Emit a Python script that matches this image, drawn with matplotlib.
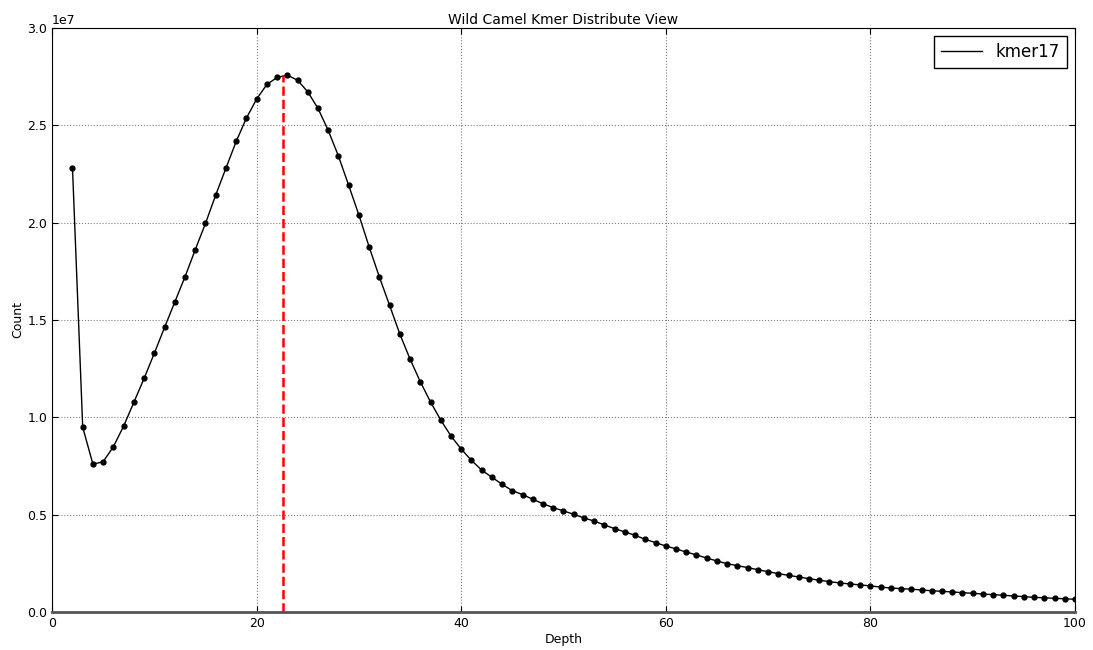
import numpy as np
import matplotlib
matplotlib.use("Agg")
import matplotlib.pyplot as plt

# kmer depth histogram, counts (units of 1e7)
depth = list(range(2, 101))
count = [2.282, 0.949, 0.759, 0.772, 0.849, 0.955, 1.077, 1.200, 1.329, 1.462,
         1.592, 1.722, 1.861, 1.996, 2.142, 2.280, 2.417, 2.537, 2.635, 2.710,
         2.746, 2.758, 2.732, 2.672, 2.587, 2.474, 2.342, 2.192, 2.039, 1.876,
         1.721, 1.575, 1.428, 1.299, 1.183, 1.079, 0.986, 0.904, 0.837, 0.779,
         0.729, 0.692, 0.656, 0.623, 0.603, 0.579, 0.556, 0.536, 0.519, 0.502,
         0.483, 0.467, 0.447, 0.428, 0.411, 0.394, 0.373, 0.356, 0.339, 0.324,
         0.308, 0.293, 0.277, 0.262, 0.248, 0.238, 0.228, 0.217, 0.207, 0.197,
         0.188, 0.180, 0.171, 0.163, 0.156, 0.149, 0.144, 0.139, 0.134, 0.128,
         0.123, 0.120, 0.117, 0.113, 0.109, 0.106, 0.103, 0.099, 0.096, 0.092,
         0.089, 0.086, 0.082, 0.079, 0.075, 0.073, 0.070, 0.068, 0.065]
count = np.array(count) * 1e7
peak_depth = 22.6
peak_count = 2.758e7

fig = plt.figure(figsize=(10.93, 6.5), dpi=100)
ax = fig.add_axes([0.0476, 0.0585, 0.9359, 0.8984])

ax.plot(depth, count, color="black", lw=1, label="kmer17")
ax.plot(depth, count, "o", color="black", ms=3.5)
ax.plot([peak_depth, peak_depth], [0, peak_count], "r--", lw=1.8)

ax.set_xlim(0, 100)
ax.set_ylim(0, 3.0e7)
ax.set_xticks([0, 20, 40, 60, 80, 100])
ax.set_yticks([0, 0.5e7, 1.0e7, 1.5e7, 2.0e7, 2.5e7, 3.0e7])
ax.grid(True, color="gray", linestyle=":", lw=0.8)
ax.tick_params(direction="in", labelsize=9, length=4, top=True, right=True)
for s in ax.spines.values():
    s.set_color("black")
ax.spines["bottom"].set_color("#555555")
ax.spines["bottom"].set_linewidth(2)
ax.yaxis.get_offset_text().set_fontsize(9)

ax.set_title("Wild Camel Kmer Distribute View", fontsize=10, pad=3)
ax.set_xlabel("Depth", fontsize=9, labelpad=2)
ax.set_ylabel("Count", fontsize=9, labelpad=2)

leg = ax.legend(loc="upper right", fontsize=12, handlelength=2.5,
                fancybox=False, framealpha=1)
leg.get_frame().set_edgecolor("black")

fig.savefig("out.png", dpi=100)
